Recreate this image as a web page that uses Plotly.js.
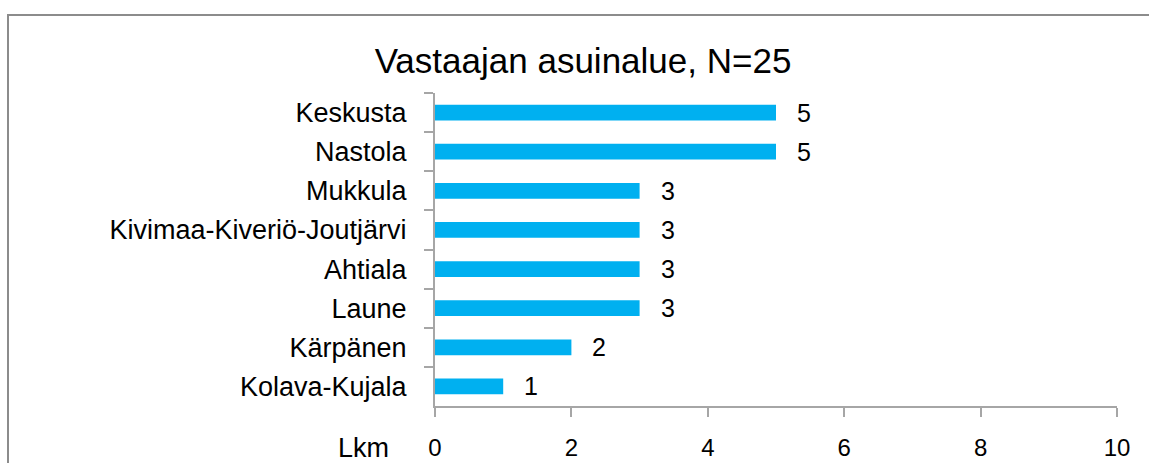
<!DOCTYPE html>
<html>
<head>
<meta charset="utf-8">
<script src="https://cdn.plot.ly/plotly-3.0.1.min.js"></script>
<style>html,body{margin:0;padding:0;background:#fff;}#chart{width:1149px;height:463px;}</style>
</head>
<body>
<div id="chart"></div>
<script>
const categories = ["Keskusta","Nastola","Mukkula","Kivimaa-Kiveriö-Joutjärvi","Ahtiala","Laune","Kärpänen","Kolava-Kujala"];
const counts = [5,5,3,3,3,3,2,1];
const xTicks = [0,2,4,6,8,10];
const titleText = "Vastaajan asuinalue, N=25";
const xAxisLabel = "Lkm";

const FONT = "Liberation Sans, Arial, sans-serif";
const W = 1149, H = 463;
const L = 435, R = 32, T = 93, B = 57;
const pw = W - L - R, ph = H - T - B;

const valueLabels = categories.map((c, i) => ({
  x: counts[i], y: c, xref: "x", yref: "y",
  text: String(counts[i]), showarrow: false,
  xanchor: "left", yanchor: "middle", xshift: 19,
  font: {family: FONT, size: 25, color: "#000"}
}));

const layout = {
  width: W, height: H,
  margin: {l: L, r: R, t: T, b: B, pad: 0},
  paper_bgcolor: "#fff", plot_bgcolor: "#fff",
  showlegend: false,
  title: {
    text: titleText, xref: "container", yref: "container",
    x: 583 / W, y: 1 - 61 / H, xanchor: "center", yanchor: "middle",
    font: {family: FONT, size: 35, color: "#000"}
  },
  bargap: 0.6,
  xaxis: {
    range: [0, 10], tickvals: xTicks, ticktext: xTicks.map(String),
    showgrid: false, zeroline: false,
    showline: true, linecolor: "#a6a6a6", linewidth: 2,
    ticks: "outside", ticklen: 9, tickwidth: 2, tickcolor: "#a6a6a6",
    ticklabelstandoff: 10,
    tickfont: {family: FONT, size: 24, color: "#000"},
    fixedrange: true
  },
  yaxis: {
    type: "category", categoryorder: "array", categoryarray: categories,
    range: [categories.length - 0.5, -0.5],
    showgrid: false, zeroline: false,
    showline: true, linecolor: "#a6a6a6", linewidth: 2,
    ticks: "outside", tickson: "boundaries", ticklen: 9, tickwidth: 2, tickcolor: "#a6a6a6",
    ticklabelstandoff: 21,
    tickfont: {family: FONT, size: 27, color: "#000"},
    fixedrange: true
  },
  annotations: valueLabels.concat([{
    text: xAxisLabel, xref: "paper", yref: "paper",
    x: (391 - L) / pw, y: -(448 - (T + ph)) / ph,
    xanchor: "right", yanchor: "middle", showarrow: false,
    font: {family: FONT, size: 27, color: "#000"}
  }]),
  shapes: [{
    type: "rect", xref: "paper", yref: "paper",
    x0: (8 - L) / pw, x1: (W + 20 - L) / pw,
    y0: -(H + 20 - (T + ph)) / ph, y1: ((T + ph) - 15) / ph,
    line: {color: "#8c8c8c", width: 2}, fillcolor: "rgba(0,0,0,0)", layer: "below"
  }]
};

Plotly.newPlot("chart", [{
  type: "bar", orientation: "h",
  x: counts, y: categories,
  marker: {color: "#00b0f0"},
  hoverinfo: "x+y"
}], layout, {displayModeBar: false, staticPlot: true});
</script>
</body>
</html>
